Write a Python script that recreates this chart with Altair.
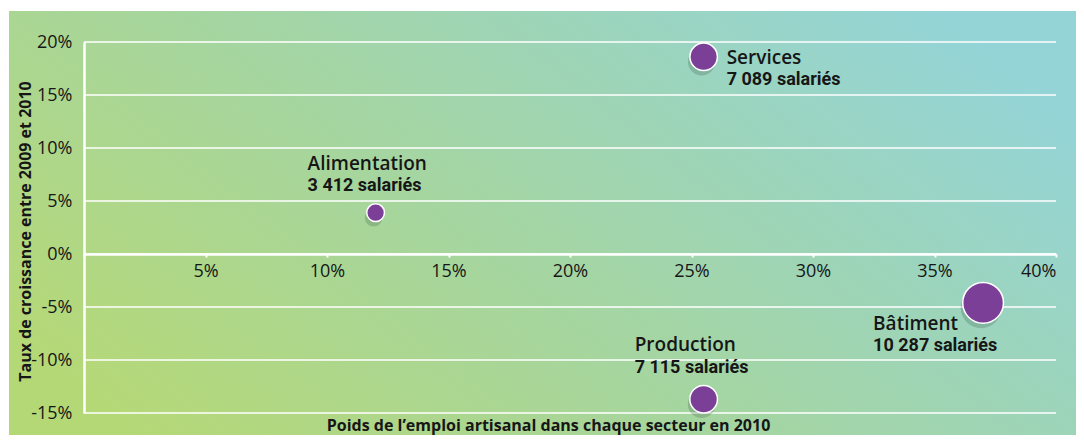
import altair as alt
import pandas as pd

# ---- data ----
sectors = ["Alimentation", "Services", "Production", "Bâtiment"]
share_pct = [12.0, 25.5, 25.5, 37.0]        # Poids de l'emploi artisanal (%)
growth_pct = [3.9, 18.6, -13.7, -4.6]       # Taux de croissance 2009-2010 (%)
employees = [3412, 7089, 7115, 10287]       # salariés

x_ticks = [0, 5, 10, 15, 20, 25, 30, 35, 40]
y_ticks = [-15, -10, -5, 0, 5, 10, 15, 20]


def fmt_count(n):
    return f"{n:,}".replace(",", " ") + " salariés"


df = pd.DataFrame({
    "sector": sectors,
    "share": share_pct,
    "growth": growth_pct,
    "employees": employees,
    "count_label": [fmt_count(n) for n in employees],
})
grid_df = pd.DataFrame({"growth": y_ticks})

# ---- styles / layout ----
W, H = 972, 371
PURPLE = "#7b3f98"
TEXT = "#161616"
FONT = "Open Sans"
NARROW = "Roboto"

label_offsets = {
    "Services": (23, 1, 23),
    "Bâtiment": (-110, 21, 43),
    "Alimentation": (-68, -49, -27),
    "Production": (-69, -54, -31),
}

xscale = alt.Scale(domain=[0, 40], nice=False, zero=False)
yscale = alt.Scale(domain=[-15, 20], nice=False, zero=False)
y0_px = 20 / 35 * H

background = alt.Chart(alt.Data(values=[{}])).mark_rect(
    fill=alt.Gradient(
        gradient="linear",
        stops=[
            alt.GradientStop(color="#b5d877", offset=0),
            alt.GradientStop(color="#a3d5a6", offset=0.5),
            alt.GradientStop(color="#94d4d7", offset=1),
        ],
        x1=0, y1=0.75, x2=1, y2=0.25,
    )
).encode(
    x=alt.value(-75), x2=alt.value(W + 20),
    y=alt.value(-31), y2=alt.value(H + 22),
)

x_axis = alt.Axis(
    values=x_ticks, grid=False, offset=-(H - y0_px), zindex=1,
    labelExpr="datum.value == 0 ? '' : datum.value + '%'",
    domainColor="white", domainWidth=2.5,
    tickColor="white", tickSize=3, tickWidth=2,
    labelFont=FONT, labelFontSize=18, labelColor=TEXT, labelPadding=5,
    title="Poids de l’emploi artisanal dans chaque secteur en 2010",
    titleFont=FONT, titleFontSize=16, titleFontWeight=700, titleColor=TEXT,
    titleX=464, titleY=171, titleBaseline="middle",
)
y_axis = alt.Axis(
    values=y_ticks, grid=False, zindex=1,
    labelExpr="datum.value + '%'",
    domainColor="white", domainWidth=2.5, ticks=False,
    labelFont=FONT, labelFontSize=18, labelColor=TEXT, labelPadding=12,
    title="Taux de croissance entre 2009 et 2010",
    titleFont=FONT, titleFontSize=16, titleFontWeight=700, titleColor=TEXT,
    titleX=-59, titleY=189, titleAngle=-90, titleBaseline="middle",
)

x_enc = alt.X("share:Q", scale=xscale, axis=x_axis)
y_enc = alt.Y("growth:Q", scale=yscale, axis=y_axis)

gridlines = alt.Chart(grid_df).mark_rule(color="white", strokeWidth=1.5).encode(
    y=y_enc,
    x=alt.value(0), x2=alt.value(W),
)

base = alt.Chart(df)

size_enc = alt.Size(
    "employees:Q",
    scale=alt.Scale(domain=[3412, 7089, 10287], range=[314, 755, 1662]),
    legend=None,
)

shadow = base.mark_circle(
    color="#1f3a2a", opacity=0.2, xOffset=-2, yOffset=5
).encode(x=x_enc, y=y_enc, size=size_enc)

bubbles = base.mark_circle(
    fill=PURPLE, opacity=1, stroke="white", strokeWidth=1.5
).encode(x=x_enc, y=y_enc, size=size_enc)

texts = []
for name, (dx, dy1, dy2) in label_offsets.items():
    sub = base.transform_filter(alt.datum.sector == name)
    texts.append(
        sub.mark_text(
            align="left", baseline="middle", dx=dx, dy=dy1,
            font=FONT, fontSize=19, fontWeight=600, color=TEXT,
        ).encode(x=x_enc, y=y_enc, text="sector:N")
    )
    texts.append(
        sub.mark_text(
            align="left", baseline="middle", dx=dx, dy=dy2,
            font=NARROW, fontSize=18, fontWeight="bold", color=TEXT,
        ).encode(x=x_enc, y=y_enc, text="count_label:N")
    )

chart = alt.layer(background, gridlines, shadow, bubbles, *texts).properties(
    width=W, height=H,
    padding={"left": 1, "top": 3, "right": 0, "bottom": 0},
    background="white",
).configure_view(stroke=None)

chart.save("out.html", embed_options={"renderer": "svg", "actions": False})
